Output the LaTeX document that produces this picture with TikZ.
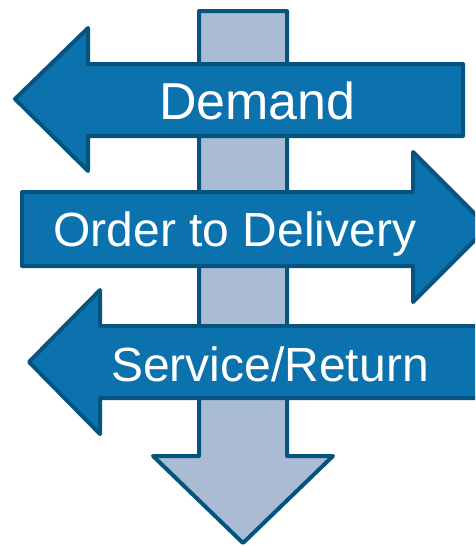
\documentclass[tikz,border=0pt]{standalone}
\usepackage{fontspec}
\setmainfont{Liberation Sans}
\definecolor{signblue}{RGB}{11,114,174}
\definecolor{signedge}{RGB}{5,84,128}
\definecolor{postfill}{RGB}{170,188,212}
\tikzset{
  sign/.style  = {draw=signedge, fill=signblue, line width=4pt, line join=round},
  post/.style  = {draw=signedge, fill=postfill, line width=4pt, line join=round},
  lbl/.style   = {text=white, anchor=base, inner sep=0pt},
}

\begin{document}
\begin{tikzpicture}[x=1pt, y=-1pt]
  \clip (0,0) rectangle (475,546);
  \useasboundingbox (0,0) rectangle (475,546);
  % post pointing down
  \draw[post] (199,11) -- (287,11) -- (287,456) -- (333,456) -- (243,543)
              -- (153,456) -- (199,456) -- cycle;
  % three signs across the post
  \draw[sign] (463,64) -- (88,64) -- (88,28) -- (15,99) -- (88,171)
              -- (88,136) -- (463,136) -- cycle;
  \draw[sign] (22,192) -- (413,192) -- (413,152) -- (488,227) -- (413,302)
              -- (413,266) -- (22,266) -- cycle;
  \draw[sign] (485,326) -- (100,326) -- (100,290) -- (29,362) -- (100,434)
              -- (100,398) -- (485,398) -- cycle;
  \node[lbl, font=\fontsize{52}{56}\selectfont] (demand) at (257.5,119) {Demand};
  \node[lbl, font=\fontsize{48}{52}\selectfont] (order) at (235,246) {Order to Delivery};
  \node[lbl, font=\fontsize{48}{52}\selectfont] (service) at (270,381) {Service/Return};
\end{tikzpicture}
\end{document}
